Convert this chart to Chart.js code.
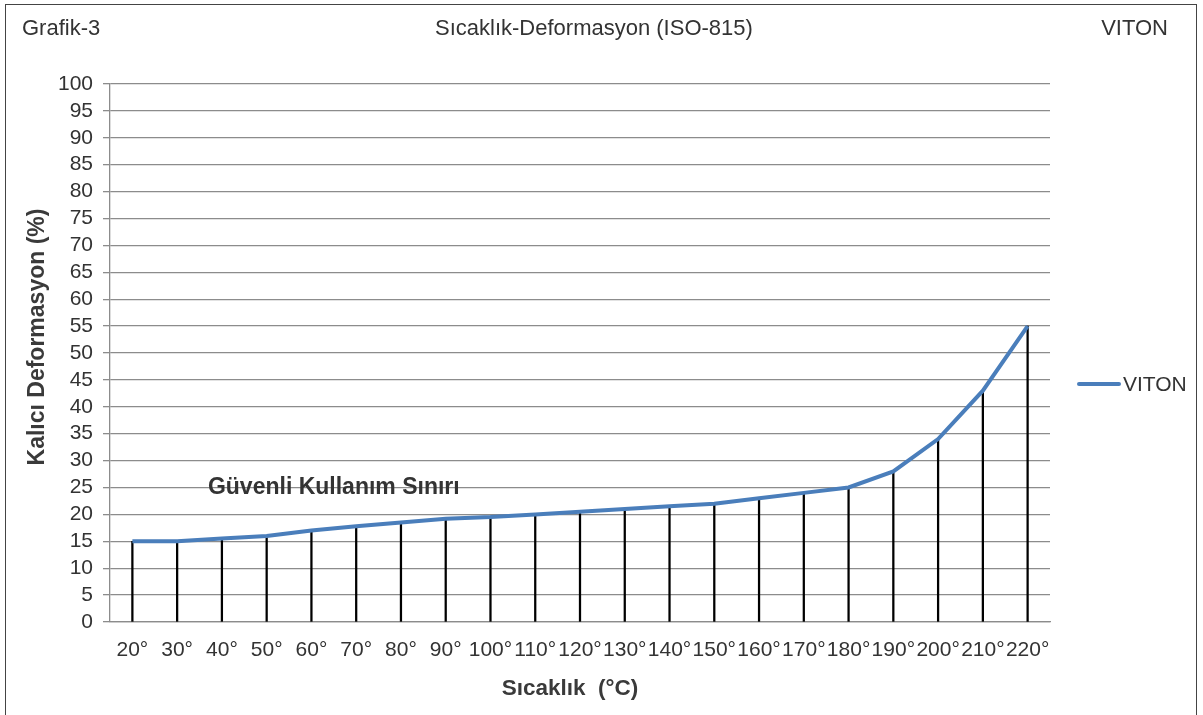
<!DOCTYPE html>
<html>
<head>
<meta charset="utf-8">
<script src="https://cdn.jsdelivr.net/npm/chart.js@4"></script>
<style>
  html, body { margin: 0; padding: 0; background: #fff; }
  body { width: 1203px; height: 715px; position: relative; overflow: hidden; font-family: "Liberation Sans", Arial, sans-serif; color: #333; }
  #frame { position: absolute; left: 5px; top: 4px; width: 1192px; height: 740px; border: 1px solid #444; box-sizing: border-box; }
  #wrap { position: absolute; left: 0; top: 0; width: 1203px; height: 715px; }
  .hdr { position: absolute; top: 15px; font-size: 22px; color: #333; white-space: nowrap; }
  #legend { position: absolute; left: 1077px; top: 372px; font-size: 21px; color: #333; display: flex; align-items: center; }
  #legend span.sw { display: inline-block; width: 44px; height: 4px; background: #4a7ebb; border-radius: 2px; margin-right: 2px; }
</style>
</head>
<body>
<div id="frame"></div>
<div id="wrap"><canvas id="chart" width="1203" height="715"></canvas></div>
<div class="hdr" style="left:22px">Grafik-3</div>
<div class="hdr" style="left:435px">Sıcaklık-Deformasyon (ISO-815)</div>
<div class="hdr" style="right:35px">VITON</div>
<div id="legend"><span class="sw"></span>VITON</div>
<script>
// temperature categories (°C)
const temps = ['20°', '30°', '40°', '50°', '60°', '70°', '80°', '90°', '100°', '110°', '120°',
  '130°', '140°', '150°', '160°', '170°', '180°', '190°', '200°', '210°', '220°'];
// compression set (%) for VITON
const viton = [15, 15, 15.5, 16, 17, 17.8, 18.5, 19.2, 19.5, 20, 20.5,
  21, 21.5, 22, 23, 24, 25, 28, 34, 43, 55];
const seriesName = 'VITON';
const noteText = 'Güvenli Kullanım Sınırı';
const noteAt = { x: 4.5, y: 25 };
const xTitle = 'Sıcaklık  (°C)';
const yTitle = 'Kalıcı Deformasyon (%)';

const font = '"Liberation Sans", Arial, sans-serif';

// note on the chart and the two axis titles
const textPlugin = {
  id: 'texts',
  afterDatasetsDraw(chart) {
    const ctx = chart.ctx;
    const area = chart.chartArea;
    ctx.save();
    ctx.font = 'bold 23px ' + font;
    ctx.fillStyle = '#333';
    ctx.textAlign = 'center';
    ctx.textBaseline = 'middle';
    ctx.fillText(noteText, chart.scales.x.getPixelForValue(noteAt.x), chart.scales.y.getPixelForValue(noteAt.y));

    ctx.fillStyle = '#3a3a3a';
    ctx.font = 'bold 22.5px ' + font;
    ctx.fillText(xTitle, (area.left + area.right) / 2 - 10, 689);

    ctx.font = 'bold 23px ' + font;
    ctx.translate(38, (area.top + area.bottom) / 2 - 16);
    ctx.rotate(-Math.PI / 2);
    ctx.fillText(yTitle, 0, 0);
    ctx.restore();
  }
};

new Chart(document.getElementById('chart'), {
  data: {
    labels: temps,
    datasets: [
      {
        type: 'line',
        label: seriesName,
        data: viton,
        borderColor: '#4a7ebb',
        borderWidth: 4,
        pointRadius: 0,
        tension: 0,
        order: 0
      },
      {
        // drop lines from each point down to the axis
        type: 'bar',
        label: 'drop',
        data: viton,
        backgroundColor: '#000',
        barThickness: 1.6,
        order: 1
      }
    ]
  },
  options: {
    responsive: false,
    animation: false,
    layout: { padding: { top: 84, right: 153, bottom: 0, left: 0 } },
    plugins: {
      legend: { display: false },
      tooltip: { enabled: false }
    },
    scales: {
      x: {
        afterFit: s => { s.height = 93; },
        grid: { display: false },
        border: { display: true, color: '#8c8c8c', width: 1.3 },
        ticks: {
          autoSkip: false, maxRotation: 0, padding: 8,
          color: '#333', font: { family: font, size: 21 }
        }
      },
      y: {
        min: 0, max: 100,
        afterFit: s => { s.width = 110; },
        grid: { color: '#8c8c8c', lineWidth: 1.3, tickLength: 7 },
        border: { display: true, color: '#8c8c8c', width: 1.3 },
        ticks: {
          stepSize: 5, maxTicksLimit: 21, autoSkip: false, padding: 10,
          color: '#333', font: { family: font, size: 21 }
        }
      }
    }
  },
  plugins: [textPlugin]
});
</script>
</body>
</html>
